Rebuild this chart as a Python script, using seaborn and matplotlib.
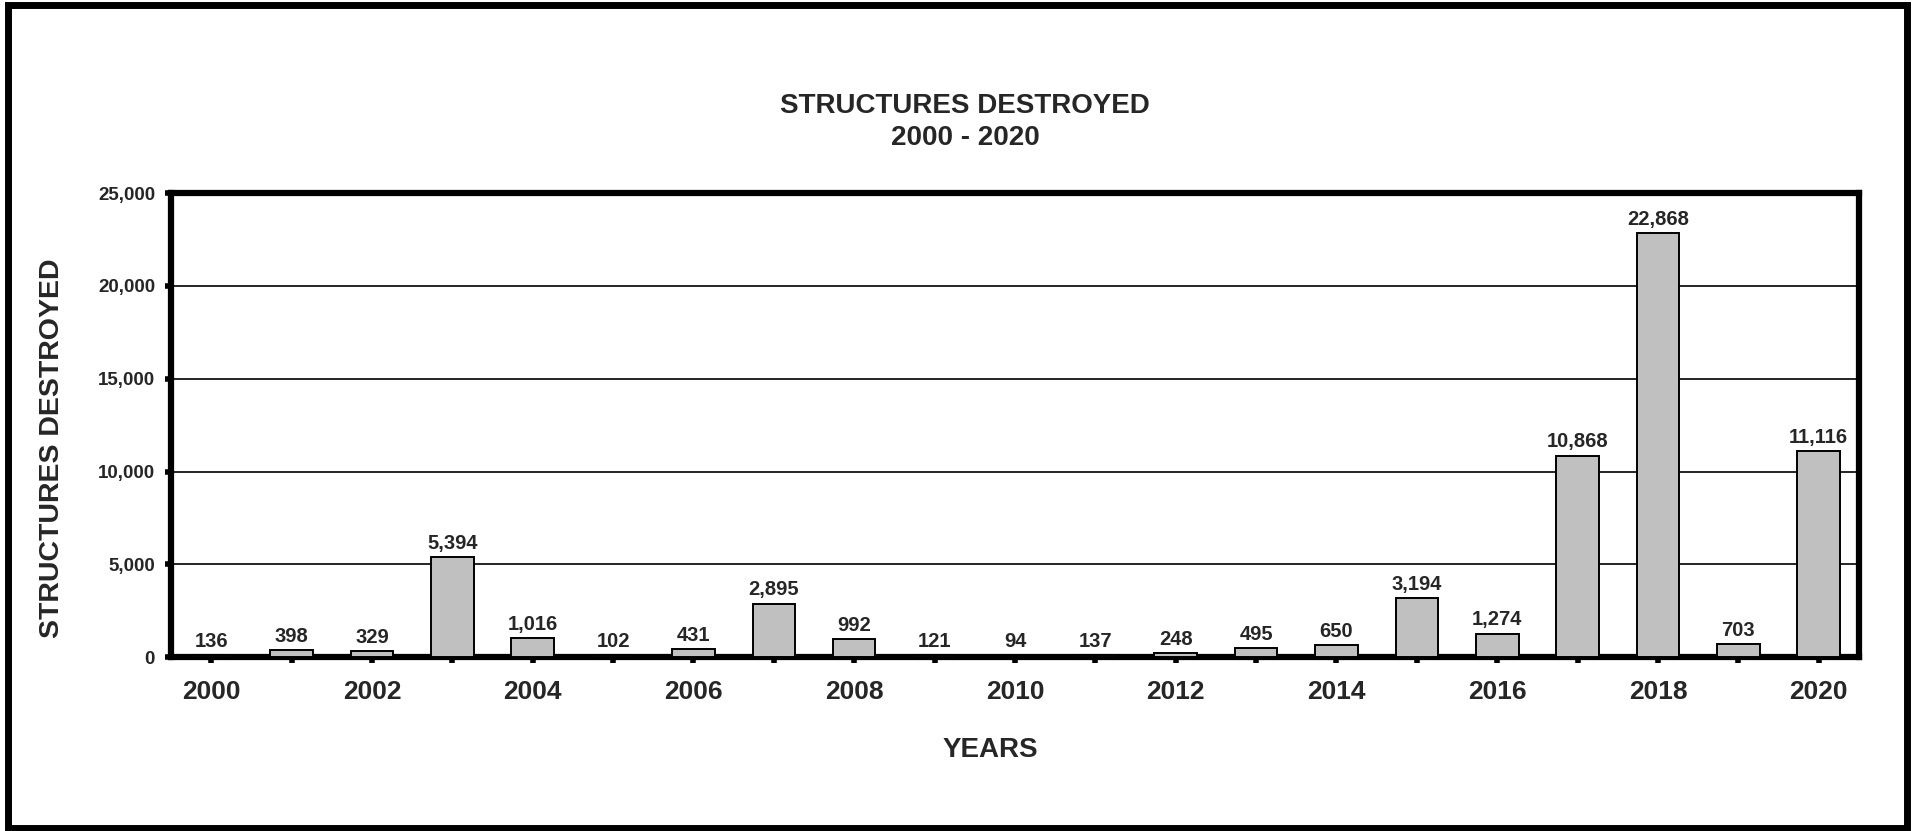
import matplotlib
matplotlib.use("Agg")
import matplotlib.pyplot as plt
import matplotlib.patches as mpatches
import seaborn as sns

YEARS = [str(y) for y in range(2000, 2021)]
DESTROYED = [136, 398, 329, 5394, 1016, 102, 431, 2895, 992, 121, 94,
             137, 248, 495, 650, 3194, 1274, 10868, 22868, 703, 11116]
Y_TICKS = [0, 5000, 10000, 15000, 20000, 25000]

sns.set_theme(style="white")
plt.rcParams["font.family"] = ["Liberation Sans", "DejaVu Sans"]
plt.rcParams["font.weight"] = "bold"

fig = plt.figure(figsize=(19.15, 8.31), dpi=100)
ax = fig.add_axes([0.0893, 0.209, 0.9707 - 0.0893, 0.7676 - 0.209])

sns.barplot(x=YEARS, y=DESTROYED, color="#C0C0C0", saturation=1, width=0.53,
            edgecolor="black", linewidth=1.4, ax=ax, zorder=3)

ax.set_ylim(0, 25000)
ax.set_xlim(-0.5, len(YEARS) - 0.5)
ax.set_yticks(Y_TICKS)
ax.set_yticklabels([f"{t:,}" for t in Y_TICKS], fontsize=13.5, fontweight="bold")
ax.set_xticks(range(len(YEARS)))
ax.set_xticklabels([y if i % 2 == 0 else "" for i, y in enumerate(YEARS)],
                   fontsize=19, fontweight="bold")
ax.tick_params(axis="both", direction="out", length=4.5, width=4, color="black",
               bottom=True, left=True, pad=7)
ax.tick_params(axis="x", pad=12)

ax.yaxis.grid(True, color="black", linewidth=1.2, zorder=0)
ax.xaxis.grid(False)
ax.set_axisbelow(True)
for side in ["left", "right", "top", "bottom"]:
    ax.spines[side].set_visible(True)
    ax.spines[side].set_color("black")
    ax.spines[side].set_linewidth(4.5)

ax.bar_label(ax.containers[0], labels=[f"{v:,}" for v in DESTROYED],
             padding=3, fontsize=14.5, fontweight="bold")

ax.set_xlabel("")
ax.set_ylabel("")
fig.text(0.504, 0.872, "STRUCTURES DESTROYED", ha="center", va="center",
         fontsize=20, fontweight="bold")
fig.text(0.504, 0.834, "2000 - 2020", ha="center", va="center",
         fontsize=20, fontweight="bold")
fig.text(0.027, 0.46, "STRUCTURES DESTROYED", ha="center", va="center",
         rotation=90, fontsize=20.5, fontweight="bold")
fig.text(0.517, 0.097, "YEARS", ha="center", va="center",
         fontsize=20, fontweight="bold")

# outer frame around the whole chart
fig.patches.append(mpatches.Rectangle((0.004, 0.004), 0.992, 0.99, fill=False,
                                      edgecolor="black", linewidth=5,
                                      transform=fig.transFigure, figure=fig))

fig.savefig("out.png", dpi=100, facecolor="white")
